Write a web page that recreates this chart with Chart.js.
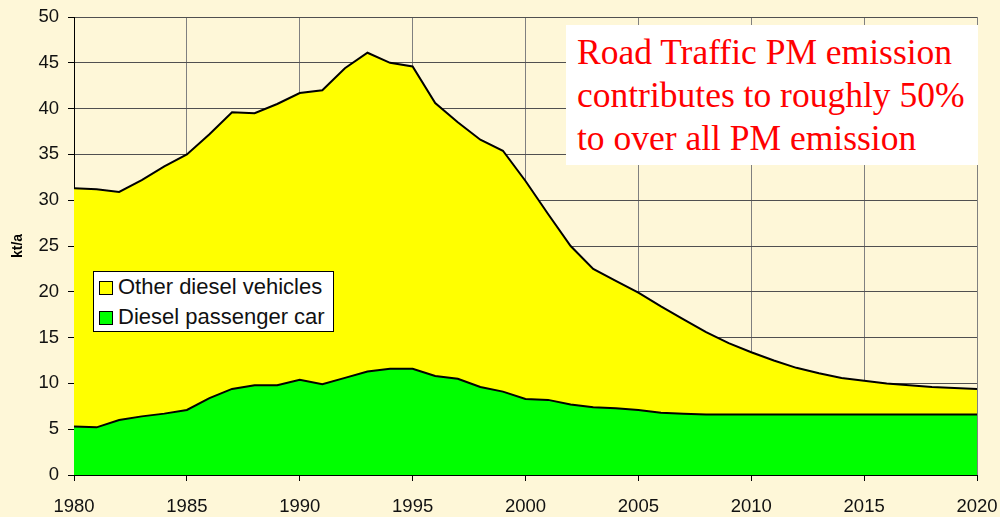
<!DOCTYPE html>
<html>
<head>
<meta charset="utf-8">
<script src="https://cdn.jsdelivr.net/npm/chart.js@4/dist/chart.umd.min.js"></script>
<style>
  html, body { margin: 0; padding: 0; background: #fef7d8; }
  #wrap { position: relative; width: 1000px; height: 517px; }
  #legend {
    position: absolute; left: 93px; top: 271px; width: 239px; height: 59px;
    background: #fff; border: 1px solid #000;
    font-family: "Liberation Sans", Arial, sans-serif; font-size: 22px; color: #111;
  }
  .row { position: absolute; left: 5px; height: 24px; line-height: 24px; white-space: nowrap; }
  .sw { display: inline-block; width: 12px; height: 12px; border: 1px solid #000; margin-right: 5px; vertical-align: -1px; }
  #note {
    position: absolute; left: 566px; top: 25px; width: 412px; height: 140px;
    background: #fff; color: #ff0000;
    font-family: "Liberation Serif", "Times New Roman", serif; font-size: 35.5px; line-height: 43px;
    box-sizing: border-box; padding: 6px 0 0 11px; white-space: nowrap;
  }
</style>
</head>
<body>
<div id="wrap">
  <canvas id="myChart" width="1000" height="517"></canvas>
  <div id="legend">
    <div class="row" style="top:3px"><span class="sw" style="background:#ffff00"></span>Other diesel vehicles</div>
    <div class="row" style="top:33px"><span class="sw" style="background:#00ff00"></span>Diesel passenger car</div>
  </div>
  <div id="note">Road Traffic PM emission<br>contributes to roughly 50%<br>to over all PM emission</div>
</div>
<script>
// Years on the x axis
const years = [1980, 1981, 1982, 1983, 1984, 1985, 1986, 1987, 1988, 1989,
               1990, 1991, 1992, 1993, 1994, 1995, 1996, 1997, 1998, 1999,
               2000, 2001, 2002, 2003, 2004, 2005, 2006, 2007, 2008, 2009,
               2010, 2011, 2012, 2013, 2014, 2015, 2016, 2017, 2018, 2019, 2020];

// Top of the yellow area (all diesel vehicles), kt/a
const otherDieselTop = [31.3, 31.2, 30.9, 32.2, 33.7, 35.0, 37.2, 39.6, 39.5, 40.5,
                        41.7, 42.0, 44.4, 46.1, 45.0, 44.6, 40.6, 38.5, 36.6, 35.4,
                        32.1, 28.5, 25.0, 22.5, 21.2, 19.9, 18.4, 17.0, 15.6, 14.4,
                        13.4, 12.5, 11.7, 11.1, 10.6, 10.3, 10.0, 9.8, 9.6, 9.5, 9.4];

// Diesel passenger car, kt/a
const dieselCar = [5.3, 5.2, 6.0, 6.4, 6.7, 7.1, 8.4, 9.4, 9.8, 9.8,
                   10.4, 9.9, 10.6, 11.3, 11.6, 11.6, 10.8, 10.5, 9.6, 9.1,
                   8.3, 8.2, 7.7, 7.4, 7.3, 7.1, 6.8, 6.7, 6.6, 6.6,
                   6.6, 6.6, 6.6, 6.6, 6.6, 6.6, 6.6, 6.6, 6.6, 6.6, 6.6];

// Axis settings
const yTicks = [0, 5, 10, 15, 20, 25, 30, 35, 40, 45, 50];
const xStep = 5;

function toPoints(values) {
    return years.map((yr, i) => ({ x: yr, y: values[i] }));
}

const ctx = document.getElementById('myChart').getContext('2d');
const tickFont = { family: "'Liberation Sans', Arial, sans-serif", size: 18.5 };

const myChart = new Chart(ctx, {
    type: 'line',
    data: {
        datasets: [{
            label: 'Other diesel vehicles',
            data: toPoints(otherDieselTop),
            backgroundColor: '#ffff00',
            borderColor: '#000',
            borderWidth: 2,
            pointRadius: 0,
            fill: 'origin',
            order: 2
        }, {
            label: 'Diesel passenger car',
            data: toPoints(dieselCar),
            backgroundColor: '#00ff00',
            borderColor: '#000',
            borderWidth: 2,
            pointRadius: 0,
            fill: 'origin',
            order: 1
        }]
    },
    options: {
        responsive: false,
        animation: false,
        layout: { padding: { top: 17, right: 0, left: 0, bottom: 0 } },
        plugins: {
            legend: { display: false },
            tooltip: { enabled: false }
        },
        scales: {
            x: {
                type: 'linear',
                min: years[0],
                max: years[years.length - 1],
                ticks: {
                    stepSize: xStep, color: '#111', font: tickFont, padding: 15, maxRotation: 0,
                    callback: (v) => String(v)
                },
                grid: { color: '#808080', tickColor: '#000', tickLength: 6 },
                border: { color: '#000', width: 1 },
                afterFit: (s) => { s.height = 42; s.paddingRight = 23; s.paddingLeft = 0; }
            },
            y: {
                min: yTicks[0],
                max: yTicks[yTicks.length - 1],
                afterBuildTicks: (s) => { s.ticks = yTicks.map(v => ({ value: v })); },
                ticks: { color: '#111', font: tickFont, padding: 9 },
                grid: { color: '#505050', tickColor: '#000', tickLength: 6 },
                border: { color: '#000', width: 1 },
                title: {
                    display: true, text: 'kt/a', color: '#000',
                    font: { family: "'Liberation Sans', Arial, sans-serif", size: 14, weight: 'bold' },
                    padding: { top: 10, bottom: 0 }
                },
                afterFit: (s) => { s.width = 74; s.paddingTop = 0; s.paddingBottom = 0; }
            }
        }
    }
});
</script>
</body>
</html>
